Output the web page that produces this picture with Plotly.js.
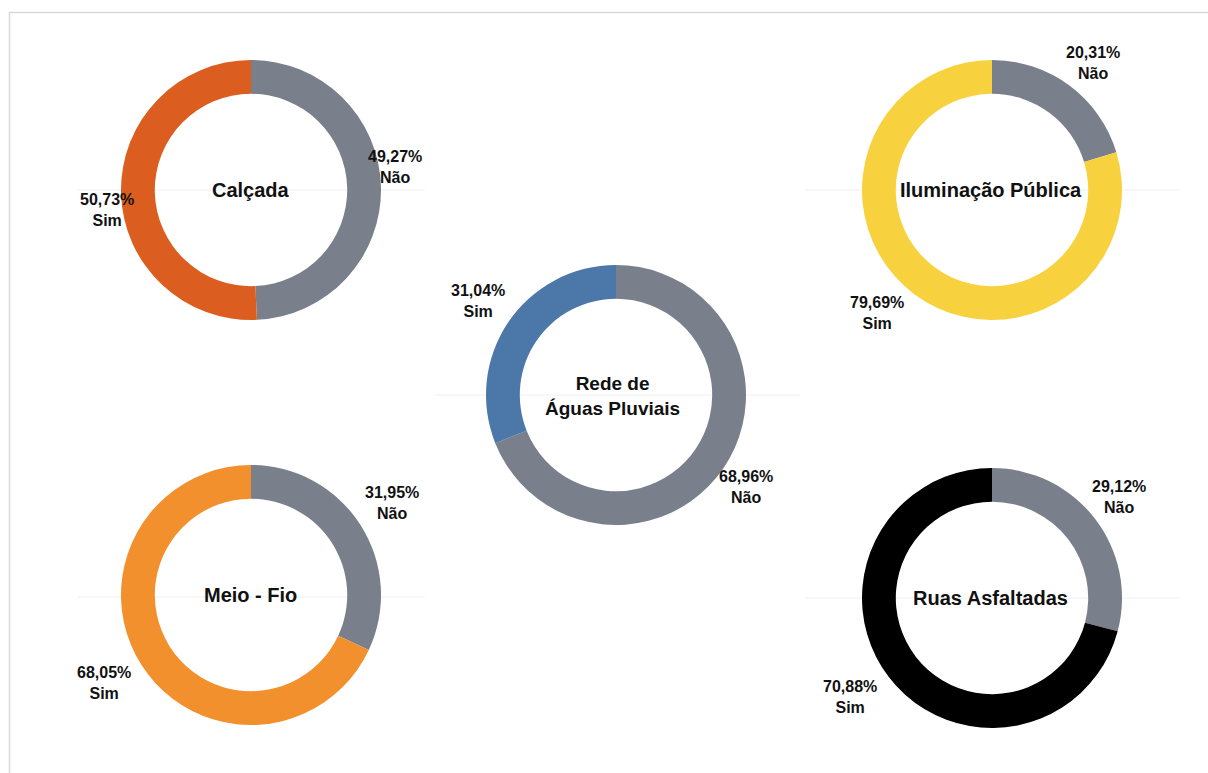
<!DOCTYPE html>
<html>
<head>
<meta charset="utf-8">
<script src="https://cdn.plot.ly/plotly-3.0.1.min.js"></script>
<style>
html,body{margin:0;padding:0;background:#fff;}
#chart{width:1208px;height:773px;}
</style>
</head>
<body>
<div id="chart"></div>
<script>
// Data
const titles = ["Calçada", "Iluminação Pública", "Rede de<br>Águas Pluviais", "Meio - Fio", "Ruas Asfaltadas"];
const labels = ["Sim", "Não"];
const simValues = [50.73, 79.69, 31.04, 68.05, 70.88];
const naoValues = [49.27, 20.31, 68.96, 31.95, 29.12];
const simColors = ["#DB5E20", "#F8D23E", "#4B77A9", "#F2902E", "#000000"];
const naoColor = "#7A7F8C";

// Layout (pixel geometry)
const W = 1208, H = 773;
const centers = [[251, 190], [992, 190], [616, 395], [251, 595], [992, 598]];
const R = 130;
const simLabelPos = [[107, 210], [877, 313], [478, 301], [104, 683], [850, 697]];
const naoLabelPos = [[395, 167], [1093, 63], [746, 487], [392, 503], [1119, 497]];
const titlePos = [[251, 190], [991, 190], [612, 396], [250, 595], [990, 598]];
const titleSizes = [20, 20, 19, 20, 20];
const gridLines = [[78, 425, 190], [805, 1180, 190], [435, 800, 395], [78, 425, 597], [805, 1180, 598]];

const fmt = v => v.toFixed(2).replace('.', ',') + '%';
const px = x => x / W;
const py = y => 1 - y / H;
const FONT = 'Liberation Sans, Arial, sans-serif';

const traces = [];
const annotations = [];
const shapes = [];

gridLines.forEach(g => {
  shapes.push({type: 'line', xref: 'paper', yref: 'paper', x0: px(g[0]), x1: px(g[1]), y0: py(g[2]), y1: py(g[2]),
    line: {color: '#f0f0f0', width: 1}, layer: 'below'});
});
shapes.push({type: 'rect', xref: 'paper', yref: 'paper', x0: px(9.5), x1: 1.05, y0: -0.05, y1: py(12.5),
  line: {color: '#d9d9d9', width: 1.5}, layer: 'below'});

titles.forEach((t, i) => {
  const [cx, cy] = centers[i];
  // "Não" first, drawn clockwise from 12 o'clock (right side); "Sim" fills the left side
  traces.push({
    type: 'pie',
    values: [naoValues[i], simValues[i]],
    labels: [labels[1], labels[0]],
    sort: false,
    direction: 'clockwise',
    rotation: 0,
    hole: 0.74,
    textinfo: 'none',
    marker: {colors: [naoColor, simColors[i]], line: {width: 0}},
    domain: {x: [px(cx - R), px(cx + R)], y: [py(cy + R), py(cy - R)]},
    showlegend: false
  });
  annotations.push({xref: 'paper', yref: 'paper', x: px(titlePos[i][0]), y: py(titlePos[i][1]),
    text: '<b>' + t + '</b>', showarrow: false, xanchor: 'center', yanchor: 'middle',
    font: {family: FONT, size: titleSizes[i], color: '#111'}});
  annotations.push({xref: 'paper', yref: 'paper', x: px(simLabelPos[i][0]), y: py(simLabelPos[i][1]),
    text: '<b>' + fmt(simValues[i]) + '<br>' + labels[0] + '</b>', showarrow: false, xanchor: 'center', yanchor: 'middle',
    font: {family: FONT, size: 16, color: '#111'}});
  annotations.push({xref: 'paper', yref: 'paper', x: px(naoLabelPos[i][0]), y: py(naoLabelPos[i][1]),
    text: '<b>' + fmt(naoValues[i]) + '<br>' + labels[1] + '</b>', showarrow: false, xanchor: 'center', yanchor: 'middle',
    font: {family: FONT, size: 16, color: '#111'}});
});

Plotly.newPlot('chart', traces, {
  width: W, height: H,
  margin: {l: 0, r: 0, t: 0, b: 0},
  paper_bgcolor: '#fff',
  annotations: annotations,
  shapes: shapes
}, {displayModeBar: false, staticPlot: true});
</script>
</body>
</html>
